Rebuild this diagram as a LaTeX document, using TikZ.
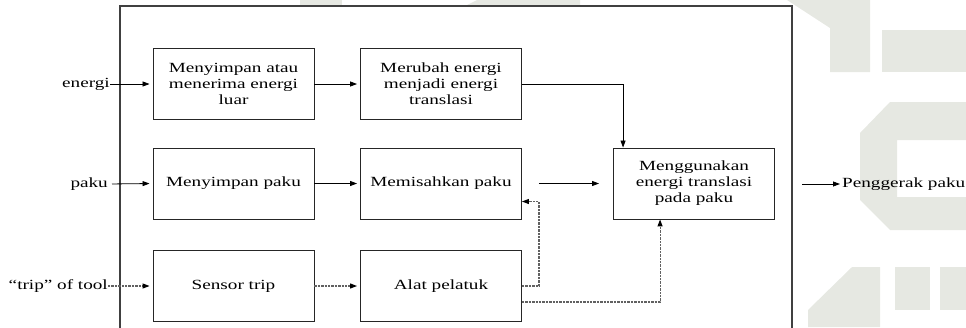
\documentclass[tikz,border=0pt]{standalone}
\usepackage{fontspec}
\setmainfont{Liberation Serif}[FakeStretch=1.37]
\usetikzlibrary{arrows.meta}
\definecolor{wm}{RGB}{230,232,226}
\tikzset{
  txt/.style={font=\fontsize{14}{16}\selectfont, inner sep=0pt},
  blk/.style={txt, draw=black!85, line width=0.9pt, minimum width=161pt, minimum height=71pt, align=center},
  arr/.style={line width=0.8pt, -{Triangle[length=7pt,width=5pt]}},
  dsh/.style={draw=black!62, line width=1.1pt, dash pattern=on 2.4pt off 1pt, -{Triangle[length=7pt,width=5pt,color=black]}},
  frame/.style={draw=black!75, line width=1.4pt}
}
\begin{document}
\begin{tikzpicture}[x=1pt,y=-1pt]
\useasboundingbox (0,0) rectangle (966,327);
% watermark
\fill[wm] (300,0) rectangle (342,6);
\fill[wm] (477,0) -- (580,0) -- (580,6) -- (465,6) -- cycle;
\fill[wm] (787,0) -- (870,0) -- (870,72) -- (830,72) -- (830,28) -- cycle;
\fill[wm] (882,30) rectangle (966,72);
\fill[wm] (890,102) -- (966,102) -- (966,140) -- (897,140) -- (897,197) -- (966,197) -- (966,230) -- (890,230) -- (860,200) -- (860,133) -- cycle;
\fill[wm] (852,267) -- (880,267) -- (880,327) -- (808,327) -- (808,310) -- cycle;
\fill[wm] (895,267) rectangle (930,310);
\fill[wm] (940,267) rectangle (966,310);
% frame
\fill[white] (120,6) rectangle (792,327);
\draw[frame] (120,330) -- (120,6) -- (792,6) -- (792,330);
% boxes
\node[blk] (b1) at (233.5,84) {Menyimpan atau\\menerima energi\\luar};
\node[blk] (b2) at (441,84) {Merubah energi\\menjadi energi\\translasi};
\node[blk] (b3) at (233.5,183.5) {Menyimpan paku};
\node[blk] (b4) at (441,183.5) {Memisahkan paku};
\node[blk] (b5) at (694,183.5) {Menggunakan\\energi translasi\\pada paku};
\node[blk] (b6) at (233.5,286) {Sensor trip};
\node[blk] (b7) at (441,286) {Alat pelatuk};
% labels
\node[txt, anchor=east] (in1) at (110,84) {energi};
\node[txt, anchor=east] (in2) at (108,184) {paku};
\node[txt, anchor=east] (in3) at (108,286) {“trip” of tool};
\node[txt, anchor=west] (out) at (842,184) {Penggerak paku};
\coordinate (o0) at (802,184);
% connectors
\draw[arr, shorten >=3pt] (in1.east) -- (b1.west);
\draw[arr, shorten <=4pt, shorten >=3pt] (in2.east) -- (b3.west);
\draw[dsh, shorten >=3pt] (in3.east) -- (b6.west);
\draw[arr, shorten >=3pt] (b1.east) -- (b2.west);
\draw[arr, shorten >=3pt] (b3.east) -- (b4.west);
\draw[dsh, shorten >=3pt] (b6.east) -- (b7.west);
\draw[arr] (b2.east) -| ([xshift=10pt]b5.north west);
\draw[arr] ([xshift=17pt]b4.east) -- ([xshift=-14pt]b5.west);
\draw[dsh] (b7.east) -- ++(17,0) |- ([yshift=-18pt]b4.east);
\draw[dsh] ([yshift=-16pt]b7.east) -| ([xshift=47pt]b5.south west);
\draw[arr, shorten >=2pt] (o0) -- (out.west);
\end{tikzpicture}
\end{document}
